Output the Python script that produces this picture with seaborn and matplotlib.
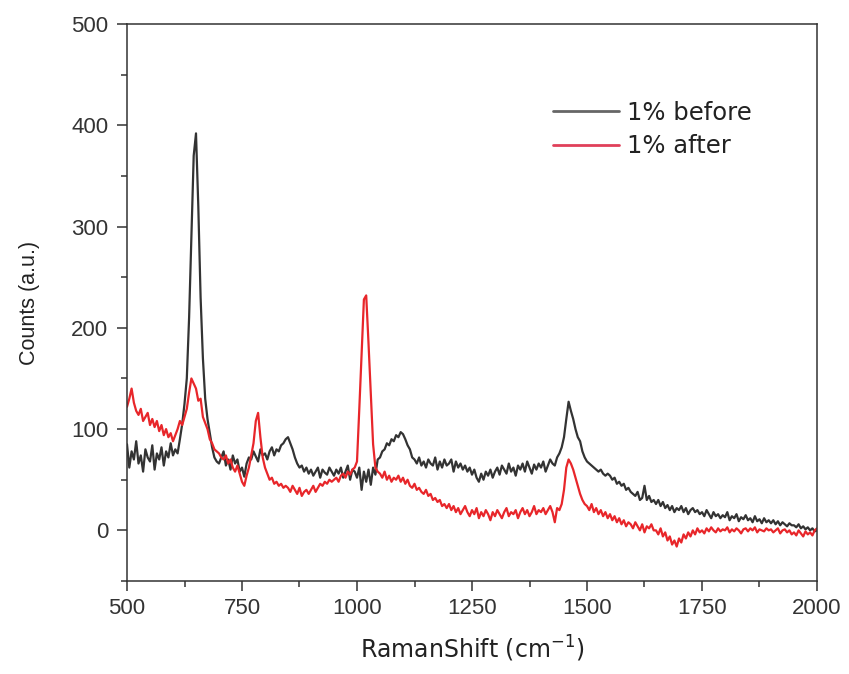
import numpy as np
import pandas as pd
import matplotlib
matplotlib.use("Agg")
import matplotlib.pyplot as plt
from matplotlib.ticker import MultipleLocator
import seaborn as sns

# Raman shift sampling grid (cm^-1)
shift_start, shift_stop, shift_step = 500, 2000, 5

before_counts = [
    85, 62, 78, 70, 88, 66, 74, 58, 80, 72,
    68, 84, 60, 76, 70, 82, 64, 78, 72, 86,
    74, 80, 76, 90, 105, 125, 150, 210, 290, 370,
    392, 320, 230, 170, 130, 110, 96, 82, 72, 68,
    66, 72, 78, 64, 70, 60, 74, 66, 70, 58,
    62, 53, 66, 72, 70, 78, 73, 68, 80, 74,
    76, 70, 78, 82, 74, 80, 78, 84, 86, 90,
    92, 86, 80, 72, 66, 62, 64, 58, 62, 56,
    60, 54, 58, 62, 52, 60, 57, 55, 62, 58,
    54, 60, 56, 62, 52, 58, 64, 50, 60, 58,
    52, 62, 40, 58, 48, 60, 45, 62, 55, 70,
    72, 78, 80, 86, 84, 90, 88, 94, 92, 97,
    95, 90, 84, 80, 72, 70, 66, 72, 64, 68,
    62, 70, 66, 64, 72, 60, 68, 62, 70, 64,
    66, 70, 58, 68, 62, 66, 60, 64, 58, 62,
    55, 60, 52, 48, 56, 50, 58, 54, 60, 52,
    58, 62, 55, 64, 60, 56, 66, 58, 62, 54,
    64, 60, 66, 58, 68, 62, 56, 65, 60, 66,
    62, 68, 58, 64, 70, 66, 64, 72, 76, 82,
    92, 110, 127, 118, 110, 100, 92, 88, 78, 72,
    68, 66, 64, 62, 60, 58, 60, 56, 54, 56,
    54, 50, 52, 46, 48, 44, 46, 40, 42, 38,
    36, 34, 38, 30, 32, 44, 30, 34, 28, 30,
    26, 30, 24, 28, 22, 25, 20, 24, 18, 22,
    20, 24, 18, 22, 16, 20, 22, 18, 20, 16,
    18, 14, 20, 16, 12, 18, 14, 16, 12, 15,
    13, 18, 10, 14, 12, 16, 9, 13, 11, 15,
    10, 12, 8, 14, 9, 11, 7, 12, 8, 10,
    7, 10, 6, 9, 5, 8, 6, 4, 7, 5,
    5, 3, 6, 2, 4, 1, 3, 0, 2, -1,
    0,
]

after_counts = [
    122, 130, 140, 126, 118, 114, 120, 108, 112, 116,
    104, 110, 102, 108, 98, 104, 94, 100, 92, 96,
    88, 94, 100, 108, 104, 112, 120, 136, 150, 145,
    140, 128, 130, 112, 106, 100, 90, 86, 80, 78,
    76, 72, 70, 74, 66, 70, 62, 58, 64, 56,
    48, 44, 54, 62, 74, 86, 108, 116, 92, 72,
    62, 56, 50, 52, 46, 48, 44, 46, 42, 44,
    42, 38, 44, 40, 36, 42, 34, 38, 40, 36,
    40, 44, 38, 42, 46, 44, 48, 46, 50, 48,
    50, 52, 48, 54, 56, 52, 58, 55, 60, 62,
    68, 120, 175, 228, 232, 185, 135, 85, 62, 58,
    56, 52, 58, 50, 54, 48, 52, 50, 54, 48,
    52, 46, 50, 44, 42, 46, 40, 42, 38, 36,
    40, 34, 36, 30, 32, 28, 30, 24, 26, 22,
    26, 20, 24, 18, 22, 16, 20, 24, 18, 14,
    20, 16, 22, 12, 18, 14, 20, 16, 10, 18,
    14, 20, 16, 12, 18, 22, 14, 18, 16, 20,
    12, 18, 22, 16, 20, 14, 18, 24, 16, 20,
    18, 22, 16, 20, 24, 18, 8, 22, 20, 26,
    40, 62, 70, 66, 60, 52, 44, 36, 30, 26,
    24, 20, 26, 18, 22, 16, 20, 14, 18, 12,
    16, 10, 14, 8, 12, 6, 10, 4, 8, 6,
    2, 8, 4, 0, 6, -2, 4, 2, 6, 0,
    0, -4, 2, -6, -2, -10, -6, -14, -10, -16,
    -8, -12, -4, -8, -2, -6, 0, -4, 2, -2,
    0, -3, 2, -1, 3, 0, -2, 2, -1, 1,
    0, 3, -2, 1, -1, 2, 0, -3, 1, 2,
    -1, 2, 0, 3, -2, 1, 0, -1, 2, 0,
    1, -2, 0, 2, -3, 0, 1, -2, 0, -4,
    -2, -5, 0, -3, -6, -1, -4, -2, -5, 0,
    2,
]

series_labels = ["1% before", "1% after"]
x_ticks = [500, 750, 1000, 1250, 1500, 1750, 2000]
y_ticks = [0, 100, 200, 300, 400, 500]

shift = np.arange(shift_start, shift_stop + 1, shift_step)
df = pd.concat([
    pd.DataFrame({"shift": shift, "counts": before_counts, "series": series_labels[0]}),
    pd.DataFrame({"shift": shift, "counts": after_counts, "series": series_labels[1]}),
])

sns.set_style("ticks")
plt.rcParams["font.family"] = ["Liberation Sans", "DejaVu Sans"]
plt.rcParams["mathtext.fontset"] = "custom"
plt.rcParams["mathtext.rm"] = "DejaVu Sans"

fig = plt.figure(figsize=(8.49, 6.74), dpi=100)
ax = fig.add_axes([127 / 849, 1 - 581 / 674, (817 - 127) / 849, (581 - 24) / 674])

palette = {series_labels[0]: "#333333", series_labels[1]: "#e8262a"}
sns.lineplot(data=df, x="shift", y="counts", hue="series", palette=palette,
             linewidth=1.6, ax=ax, sort=False, estimator=None)

ax.set_xlim(500, 2000)
ax.set_ylim(-50, 500)
ax.set_xticks(x_ticks)
ax.set_yticks(y_ticks)
ax.xaxis.set_minor_locator(MultipleLocator(125))
ax.yaxis.set_minor_locator(MultipleLocator(50))
ax.tick_params(axis="both", which="major", direction="out", length=7.5, width=1.1,
               labelsize=16, colors="#333333", labelcolor="#333333")
ax.tick_params(axis="x", which="major", pad=4.5)
ax.tick_params(axis="y", which="major", pad=6)
ax.tick_params(axis="both", which="minor", direction="out", length=4.3, width=1.1,
               colors="#333333")
ax.tick_params(top=False, right=False, which="both")
for sp in ax.spines.values():
    sp.set_visible(True)
    sp.set_color("#333333")
    sp.set_linewidth(1.1)

xl = ax.set_xlabel("RamanShift (cm$^{-1}$)", fontsize=17, color="#222222",
                   family=["DejaVu Sans"])
ax.xaxis.set_label_coords(0.5, (581 - 658) / 557)
xl.set_va("baseline")
ax.set_ylabel("Counts (a.u.)", fontsize=15.5, color="#222222")
ax.yaxis.set_label_coords((40 - 127) / 690, 0.5)

handles, labels = ax.get_legend_handles_labels()
leg = ax.legend(handles, labels, loc="upper left",
                bbox_to_anchor=((553 - 127) / 690, (581 - 101) / 557),
                frameon=False, prop={"family": "DejaVu Sans", "size": 17.5},
                handlelength=2.7, handletextpad=0.36, labelspacing=0.38,
                borderpad=0, borderaxespad=0)
leg.get_lines()[0].set_color("#666666")
leg.get_lines()[1].set_color("#e0405a")
for ln in leg.get_lines():
    ln.set_linewidth(2.0)
for t in leg.get_texts():
    t.set_color("#222222")

fig.savefig("out.png", dpi=100)
